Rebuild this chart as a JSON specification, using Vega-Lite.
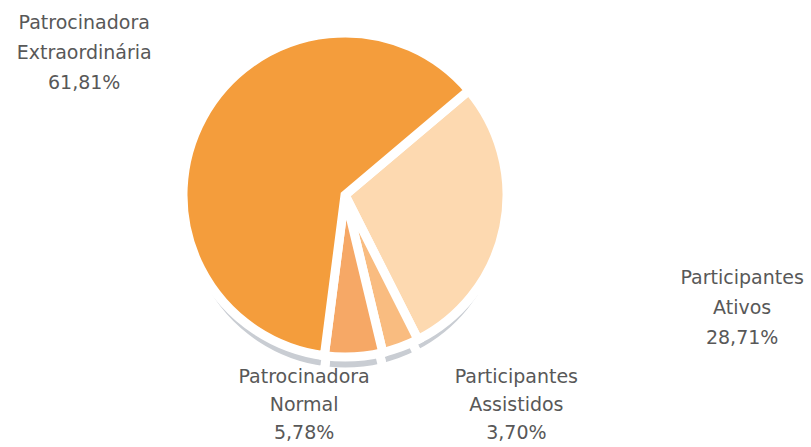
{
  "$schema": "https://vega.github.io/schema/vega-lite/v6.json",
  "width": 811,
  "height": 447,
  "padding": 0,
  "autosize": {"type": "none"},
  "background": "white",
  "config": {"view": {"stroke": null}, "text": {"font": "DejaVu Sans"}},
  "data": {
    "values": [
      {"cat": "Participantes Ativos", "pct": 28.71, "ord": 1, "label": ["Participantes", "Ativos", "28,71%"]},
      {"cat": "Participantes Assistidos", "pct": 3.70, "ord": 2, "label": ["Participantes", "Assistidos", "3,70%"]},
      {"cat": "Patrocinadora Normal", "pct": 5.78, "ord": 3, "label": ["Patrocinadora", "Normal", "5,78%"]},
      {"cat": "Patrocinadora Extraordinária", "pct": 61.81, "ord": 4, "label": ["Patrocinadora", "Extraordinária", "61,81%"]}
    ]
  },
  "encoding": {
    "theta": {"field": "pct", "type": "quantitative", "stack": true, "scale": {"range": [0.87, 7.153]}},
    "order": {"field": "ord", "type": "ordinal"},
    "x": {"value": 345},
    "y": {"value": 195}
  },
  "layer": [
    {
      "mark": {"type": "arc", "outerRadius": 162, "yOffset": 15, "fill": "#C9CDD3", "stroke": "white", "strokeWidth": 9}
    },
    {
      "mark": {"type": "arc", "outerRadius": 162, "stroke": "white", "strokeWidth": 9},
      "encoding": {
        "color": {
          "field": "cat", "type": "nominal", "legend": null,
          "scale": {
            "domain": ["Participantes Ativos", "Participantes Assistidos", "Patrocinadora Normal", "Patrocinadora Extraordinária"],
            "range": ["#FDD9B0", "#F9BC80", "#F6A866", "#F49D3C"]
          }
        }
      }
    },
    {
      "mark": {"type": "text", "radius": 297, "fontSize": 19, "fill": "#585858", "lineHeight": 30, "baseline": "middle", "dy": -30},
      "encoding": {"text": {"condition": {"test": "datum.ord == 4", "field": "label"}, "value": ""}}
    },
    {
      "mark": {"type": "text", "radius": 413, "thetaOffset": 0.077, "fontSize": 19, "fill": "#585858", "lineHeight": 30, "baseline": "middle", "dy": -30},
      "encoding": {"text": {"condition": {"test": "datum.ord == 1", "field": "label"}, "value": ""}}
    },
    {
      "mark": {"type": "text", "radius": 214, "thetaOffset": 0.246, "fontSize": 19, "fill": "#585858", "lineHeight": 28, "baseline": "middle", "dy": -28},
      "encoding": {"text": {"condition": {"test": "datum.ord == 3", "field": "label"}, "value": ""}}
    },
    {
      "mark": {"type": "text", "radius": 271, "thetaOffset": -0.333, "fontSize": 19, "fill": "#585858", "lineHeight": 28, "baseline": "middle", "dy": -28},
      "encoding": {"text": {"condition": {"test": "datum.ord == 2", "field": "label"}, "value": ""}}
    }
  ]
}
